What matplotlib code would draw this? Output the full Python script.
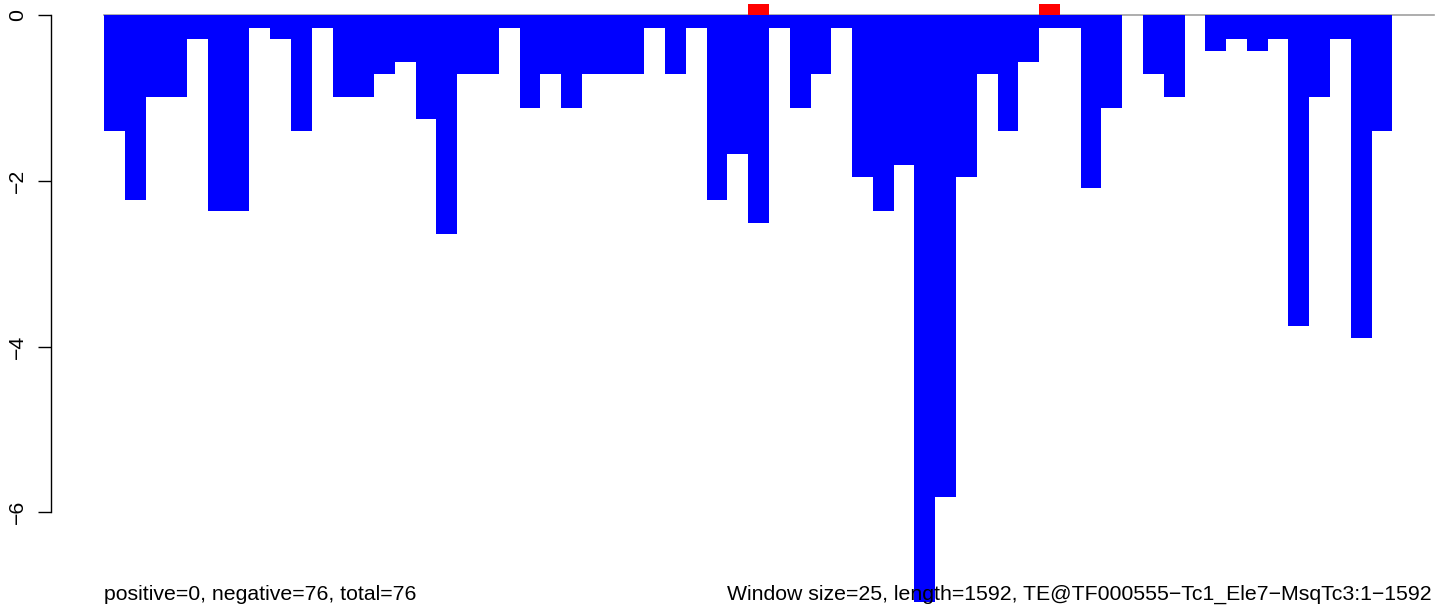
import numpy as np
import matplotlib
matplotlib.use('Agg')
import matplotlib.pyplot as plt

plt.rcParams['font.family'] = ['Liberation Sans', 'DejaVu Sans']

window = 25
length = 1592
name = 'TE@TF000555\u2212Tc1_Ele7\u2212MsqTc3:1\u22121592'

# per-window scores (one value per 25 bp window)
neg = [-1.40, -2.23, -0.99, -0.99, -0.29, -2.36, -2.36, -0.15, -0.29, -1.40,
       -0.15, -0.99, -0.99, -0.71, -0.56, -1.25, -2.64, -0.71, -0.71, -0.15,
       -1.12, -0.71, -1.12, -0.71, -0.71, -0.71, -0.15, -0.71, -0.15, -2.23,
       -1.68, -2.51, -0.15, -1.12, -0.71, -0.15, -1.95, -2.36, -1.81, -7.08,
       -5.82, -1.95, -0.71, -1.40, -0.56, -0.15, -0.15, -2.09, -1.12, 0.0,
       -0.71, -0.99, 0.0, -0.43, -0.29, -0.43, -0.29, -3.75, -0.99, -0.29,
       -3.90, -1.40, 0.0, 0.0]
pos = [0.0] * 64
pos[31] = 0.14
pos[45] = 0.14

n_pos, n_neg, n_tot = 0, 76, 76

starts = np.arange(len(neg)) * window

fig = plt.figure(figsize=(14.44, 6.13), dpi=100)
ax = fig.add_axes([51 / 1444, 11.3 / 613, 1 - 51 / 1444, 601.7 / 613])

ax.plot([0, len(neg) * window], [0, 0], color='#a0a0a0', lw=1.2, zorder=1)
ax.bar(starts, neg, width=window, align='edge', color='#0000ff', lw=0, zorder=2)
ax.bar(starts, pos, width=window, align='edge', color='#ff0000', lw=0, zorder=2)

px = 20.78 / window  # pixels per bp
ax.set_xlim(-53 / px, (1444 - 104) / px)
ax.set_ylim(-7.08, 15.3 / 82.83)

for s in ['top', 'right', 'bottom']:
    ax.spines[s].set_visible(False)
ax.spines['left'].set_bounds(-6, 0)
ax.spines['left'].set_linewidth(1)
ax.set_xticks([])
ax.set_yticks([0, -2, -4, -6])
ax.set_yticklabels(['0', '\u22122', '\u22124', '\u22126'], rotation=90, va='center')
ax.tick_params(axis='y', length=9.4, width=1, pad=8, labelsize=15.3)

fig.text(104 / 1444, 1 - 594 / 613, 'positive=%d, negative=%d, total=%d' % (n_pos, n_neg, n_tot),
         fontsize=15.3, ha='left', va='center')
fig.text(1432 / 1444, 1 - 594 / 613, 'Window size=%d, length=%d, %s' % (window, length, name),
         fontsize=15.3, ha='right', va='center')

plt.savefig('out.png', dpi=100)
plt.close()
